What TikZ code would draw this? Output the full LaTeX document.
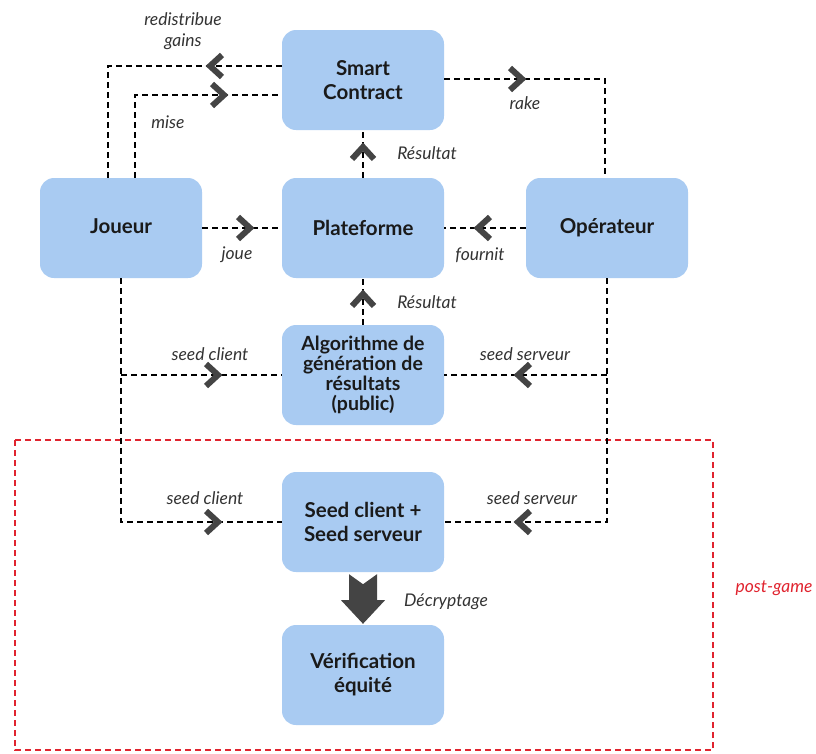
\documentclass[tikz,border=0pt]{standalone}
\usepackage{fontspec}
\setmainfont{Lato}
\definecolor{nodeblue}{HTML}{A9CBF2}
\definecolor{chevgray}{HTML}{444444}
\definecolor{postred}{HTML}{E0242F}
\definecolor{txt}{HTML}{1A1A1A}
\definecolor{lbltxt}{HTML}{333333}
\tikzset{
 box/.style={fill=nodeblue, rounded corners=14pt, minimum width=162pt, minimum height=100pt, align=center, font=\bfseries\fontsize{20.5}{24}\selectfont, text=txt, inner sep=0pt},
 flow/.style={draw=black, line width=2.2pt, dash pattern=on 6pt off 4pt},
 lbl/.style={font=\itshape\fontsize{17.5}{21}\selectfont, text=lbltxt, align=center, inner sep=0pt},
 chev/.pic={\draw[chevgray, line width=6pt, line join=miter, line cap=butt] (-6,-11) -- (6,0) -- (-6,11);},
}
\begin{document}
\begin{tikzpicture}[x=1pt,y=-1pt]
\useasboundingbox (0,0) rectangle (816,753);
% frame
\draw[postred, line width=2pt, dash pattern=on 6pt off 4pt] (15,440) rectangle (713,750);
\node[lbl, text=postred] (pg) at (774,588) {post-game};
% nodes
\node[box] (sc) at (363,80) {Smart\\Contract};
\node[box, text height=1.2em] (jo) at (121,228) {Joueur};
\node[box] (pl) at (363,228) {Plateforme};
\node[box] (op) at (607,228) {Opérateur};
\node[box, font=\bfseries\fontsize{19.5}{20}\selectfont] (al) at (363,375) {Algorithme de\\génération de\\résultats\\(public)};
\node[box] (se) at (363,522) {Seed client +\\Seed serveur};
\node[box] (ve) at (363,675) {Vérification\\équité};
% helper coordinates
\coordinate (rg) at (108,66);
\coordinate (mi) at (135,95);
\coordinate (rk) at (605,79);
% connectors
\draw[flow] (sc.west |- rg) -| (jo.north -| rg);
\draw[flow] (jo.north -| mi) |- (sc.west |- mi);
\draw[flow] (sc.east |- rk) -| (op.north -| rk);
\draw[flow] (pl.north) -- (sc.south);
\draw[flow] (jo.east) -- (pl.west);
\draw[flow] (op.west) -- (pl.east);
\draw[flow] (al.north) -- (pl.south);
\draw[flow] (jo.south) |- (se.west);
\draw[flow] (jo.south |- al.west) -- (al.west);
\draw[flow] (op.south) |- (se.east);
\draw[flow] (op.south |- al.east) -- (al.east);
% chevrons
\pic[rotate=180] at (216,66) {chev};
\pic at (218,95) {chev};
\pic at (516,79) {chev};
\pic[rotate=90] at (363,153) {chev};
\pic[rotate=90] at (363,300) {chev};
\pic at (244,228) {chev};
\pic[rotate=180] at (484,228) {chev};
\pic at (212,375) {chev};
\pic at (212,522) {chev};
\pic[rotate=180] at (524,375) {chev};
\pic[rotate=180] at (524,522) {chev};
% decryption block arrow
\fill[chevgray] ([shift={(-14,2)}]se.south) -- ([shift={(0,12)}]se.south) -- ([shift={(14,2)}]se.south)
  -- ([shift={(14,28)}]se.south) -- ([shift={(22,28)}]se.south) -- ([shift={(0,-1)}]ve.north)
  -- ([shift={(-22,28)}]se.south) -- ([shift={(-14,28)}]se.south) -- cycle;
% labels
\node[lbl] (l1) at (183,31) {redistribue\\gains};
\node[lbl] (l2) at (168,122) {mise};
\node[lbl] (l3) at (525,103) {rake};
\node[lbl] (l4) at (427,153) {Résultat};
\node[lbl] (l5) at (237,255) {joue};
\node[lbl] (l6) at (480,255) {fournit};
\node[lbl] (l7) at (427,302) {Résultat};
\node[lbl] (l8) at (210,354) {seed client};
\node[lbl] (l9) at (205,498) {seed client};
\node[lbl] (l10) at (525,354) {seed serveur};
\node[lbl] (l11) at (532,498) {seed serveur};
\node[lbl] (l12) at (446,602) {Décryptage};
\end{tikzpicture}
\end{document}
